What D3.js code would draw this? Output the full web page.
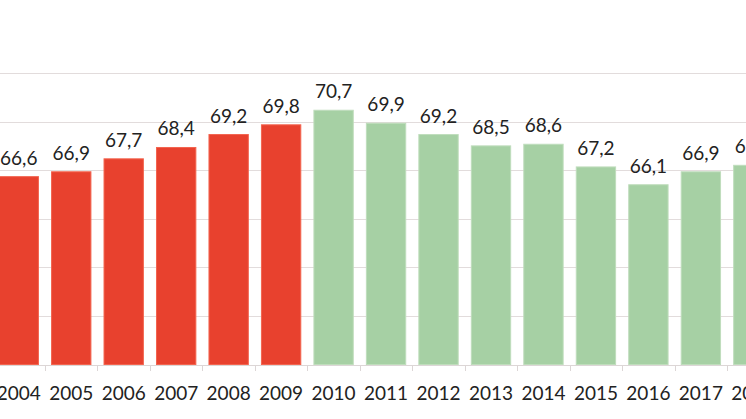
<!DOCTYPE html>
<html>
<head>
<meta charset="utf-8">
<script src="https://cdn.jsdelivr.net/npm/d3@7"></script>
<style>
  html, body { margin: 0; padding: 0; background: #fff; }
  svg { display: block; }
  text { font-family: Lato, "Open Sans", sans-serif; }
</style>
</head>
<body>
<script>
const years = ["2004","2005","2006","2007","2008","2009","2010","2011","2012","2013","2014","2015","2016","2017","2018"];
const values = [66.6, 66.9, 67.7, 68.4, 69.2, 69.8, 70.7, 69.9, 69.2, 68.5, 68.6, 67.2, 66.1, 66.9, 67.3];
const groups = ["a","a","a","a","a","a","b","b","b","b","b","b","b","b","b"];
const yTicks = [55, 58, 61, 64, 67, 70, 73];

const W = 746, H = 419;
const step = 52.47;
const x0 = 45 - step;
const svg = d3.select("body").append("svg").attr("width", W).attr("height", H);

const x = d3.scaleBand().domain(years).range([x0, x0 + step * years.length]).paddingInner(0.25).paddingOuter(0.125);
const y = d3.scaleLinear().domain([55, 73]).range([364.5, 73]);

const fill = {a: "#E8412E", b: "#A6D0A4"};
const edge = {a: "#F3644F", b: "#BFDDBC"};

// gridlines
svg.append("g").selectAll("line").data(yTicks.slice(1)).join("line")
  .attr("x1", 0).attr("x2", W)
  .attr("y1", d => Math.round(y(d)) + 0.5).attr("y2", d => Math.round(y(d)) + 0.5)
  .attr("stroke", "#E2DCDC").attr("stroke-width", 1);

// bars
svg.append("g").selectAll("rect").data(years).join("rect")
  .attr("x", d => x(d))
  .attr("y", (d, i) => y(values[i]))
  .attr("width", x.bandwidth())
  .attr("height", (d, i) => y(55) - y(values[i]))
  .attr("fill", (d, i) => fill[groups[i]])
  .attr("stroke", (d, i) => edge[groups[i]])
  .attr("stroke-width", 1);

// baseline
svg.append("line").attr("x1", 0).attr("x2", W)
  .attr("y1", Math.round(y(55)) + 0.5).attr("y2", Math.round(y(55)) + 0.5)
  .attr("stroke", "#DCD6D6");

// tick marks at band boundaries
const bounds = years.map(d => x(d) - x.step() * 0.125);
bounds.push(x(years[years.length - 1]) + x.bandwidth() + x.step() * 0.125);
svg.append("g").selectAll("line").data(bounds).join("line")
  .attr("x1", d => Math.round(d) + 0.5).attr("x2", d => Math.round(d) + 0.5)
  .attr("y1", Math.round(y(55)) + 0.5).attr("y2", Math.round(y(55)) + 6)
  .attr("stroke", "#DCD6D6");

// value labels
svg.append("g").selectAll("text").data(years).join("text")
  .attr("x", d => x(d) + x.bandwidth() / 2)
  .attr("y", (d, i) => y(values[i]) - 12)
  .attr("text-anchor", "middle")
  .attr("font-size", 19)
  .attr("fill", "#222")
  .text((d, i) => d3.format(".1f")(values[i]).replace(".", ","));

// year labels
svg.append("g").selectAll("text").data(years).join("text")
  .attr("x", d => x(d) + x.bandwidth() / 2)
  .attr("y", 400)
  .attr("text-anchor", "middle")
  .attr("font-size", 19)
  .attr("fill", "#222")
  .text(d => d);
</script>
</body>
</html>
